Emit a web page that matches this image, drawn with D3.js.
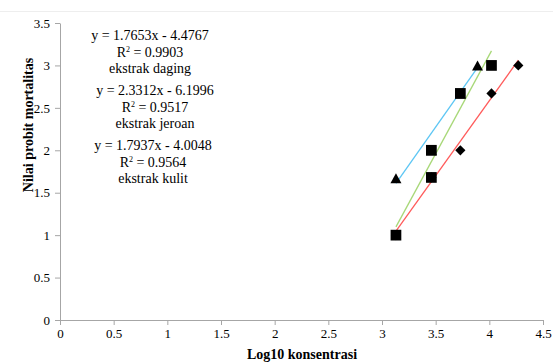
<!DOCTYPE html>
<html>
<head>
<meta charset="utf-8">
<script src="https://cdn.jsdelivr.net/npm/d3@7"></script>
<style>
	body { margin: 0; background: #fff; }
	svg text { font-family: "Liberation Serif", serif !important; fill: #000; }
</style>
</head>
<body>
<div id="chart"></div>
<script>
// log10 konsentrasi & probit values per extract
const dagingX	= [3.13, 3.46, 3.73, 4.02, 4.27];
const dagingY	= [1.0, 1.68, 2.0, 2.67, 3.0];
const jeroanX	= [3.13, 3.46, 3.46, 3.73, 4.02];
const jeroanY	= [1.0, 1.68, 2.0, 2.67, 3.0];
const kulitX	= [3.13, 3.46, 3.73, 3.89];
const kulitY	= [1.67, 2.0, 2.67, 3.0];

// trendline coefficients (from the labels)
const slopes		= [1.7653, 2.3312, 1.7937];
const intercepts	= [-4.4767, -6.1996, -4.0048];
const r2			= ['0.9903', '0.9517', '0.9564'];
const names			= ['ekstrak daging', 'ekstrak jeroan', 'ekstrak kulit'];

const xTicks = [0, 0.5, 1, 1.5, 2, 2.5, 3, 3.5, 4, 4.5];
const yTicks = [0, 0.5, 1, 1.5, 2, 2.5, 3, 3.5];

let canvasWidth		= 553;
let canvasHeight	= 363;
let margin			= { top: 23, right: 10, bottom: 43, left: 60 };
let width			= 543 - margin.left;
let height			= 320 - margin.top;

let x = d3.scaleLinear().domain([0, 4.5]).range([0, width]);
let y = d3.scaleLinear().domain([0, 3.5]).range([height, 0]);

let root = d3.select('#chart').append('svg')
	.attr('width', canvasWidth)
	.attr('height', canvasHeight);

// faint chart border at top
root.append('line')
	.attr('x1', 0).attr('x2', canvasWidth)
	.attr('y1', 11.5).attr('y2', 11.5)
	.attr('stroke', '#eeeeee');

let svg = root.append('g')
	.attr('transform', 'translate(' + margin.left + ',' + margin.top + ')');

// axes
let xAxis = svg.append('g')
	.attr('transform', 'translate(0,' + height + ')')
	.call(d3.axisBottom(x).tickValues(xTicks).tickSize(5).tickSizeOuter(0).tickFormat(d3.format('')));
let yAxis = svg.append('g')
	.call(d3.axisLeft(y).tickValues(yTicks).tickSize(5).tickSizeOuter(0).tickFormat(d3.format('')));

[xAxis, yAxis].forEach((a) => {
	a.attr('font-family', null);
	a.select('.domain').attr('stroke', '#a6a6a6');
	a.selectAll('.tick line').attr('stroke', '#a6a6a6');
	a.selectAll('.tick text')
		.style('font-size', '13px')
		.attr('fill', '#000');
});
xAxis.selectAll('.tick text').attr('dy', '0.9em').attr('y', 6);
yAxis.selectAll('.tick text').attr('x', -10);

// axis titles
root.append('text')
	.attr('x', 302).attr('y', 359)
	.attr('text-anchor', 'middle')
	.style('font-size', '14px').style('font-weight', 'bold')
	.text('Log10 konsentrasi');
root.append('text')
	.attr('transform', 'translate(33,125) rotate(-90)')
	.attr('text-anchor', 'middle')
	.style('font-size', '14px').style('font-weight', 'bold')
	.text('Nilai probit mortalitas');

// trendlines
let series = [
	{ xs: dagingX, ys: dagingY, color: '#ff5a5a' },
	{ xs: jeroanX, ys: jeroanY, color: '#a8d878' },
	{ xs: kulitX,  ys: kulitY,  color: '#5cc6f4' }
];
series.forEach((s, i) => {
	let x0 = d3.min(s.xs), x1 = d3.max(s.xs);
	svg.append('line')
		.attr('x1', x(x0)).attr('y1', y(slopes[i] * x0 + intercepts[i]))
		.attr('x2', x(x1)).attr('y2', y(slopes[i] * x1 + intercepts[i]))
		.attr('stroke', s.color)
		.attr('stroke-width', 1.3);
});

// markers: diamonds, triangles, then squares on top
let boxTriangle = {
	draw: function(ctx, size) {
		let h = Math.sqrt(size);
		ctx.moveTo(0, -h / 2);
		ctx.lineTo(h * 0.55, h / 2);
		ctx.lineTo(-h * 0.55, h / 2);
		ctx.closePath();
	}
};
let diamond		= d3.symbol().type(d3.symbolSquare).size(52);
let triangle	= d3.symbol().type(boxTriangle).size(100);
let square		= d3.symbol().type(d3.symbolSquare).size(115);

svg.selectAll('.diamond')
	.data(d3.zip(dagingX, dagingY)).enter().append('path')
		.attr('class', 'diamond')
		.attr('d', diamond)
		.attr('transform', (o) => ('translate(' + x(o[0]) + ',' + y(o[1]) + ') rotate(45)'));

svg.selectAll('.triangle')
	.data(d3.zip(kulitX, kulitY)).enter().append('path')
		.attr('class', 'triangle')
		.attr('d', triangle)
		.attr('transform', (o) => ('translate(' + x(o[0]) + ',' + y(o[1]) + ')'));

svg.selectAll('.square')
	.data(d3.zip(jeroanX, jeroanY)).enter().append('path')
		.attr('class', 'square')
		.attr('d', square)
		.attr('transform', (o) => ('translate(' + x(o[0]) + ',' + y(o[1]) + ')'));

// equation labels
let labelX	= [150, 155, 153];
let labelY	= [40, 95, 150];
names.forEach((n, i) => {
	let g = root.append('g')
		.attr('transform', 'translate(' + labelX[i] + ',' + labelY[i] + ')')
		.style('font-size', '14px')
		.attr('text-anchor', 'middle');
	g.append('text').attr('y', 0)
		.text('y = ' + slopes[i] + 'x - ' + Math.abs(intercepts[i]));
	let r = g.append('text').attr('y', 16.5);
	r.append('tspan').text('R');
	r.append('tspan').attr('dy', -5).style('font-size', '8px').text('2');
	r.append('tspan').attr('dy', 5).text(' = ' + r2[i]);
	g.append('text').attr('y', 33).text(n);
});
</script>
</body>
</html>
